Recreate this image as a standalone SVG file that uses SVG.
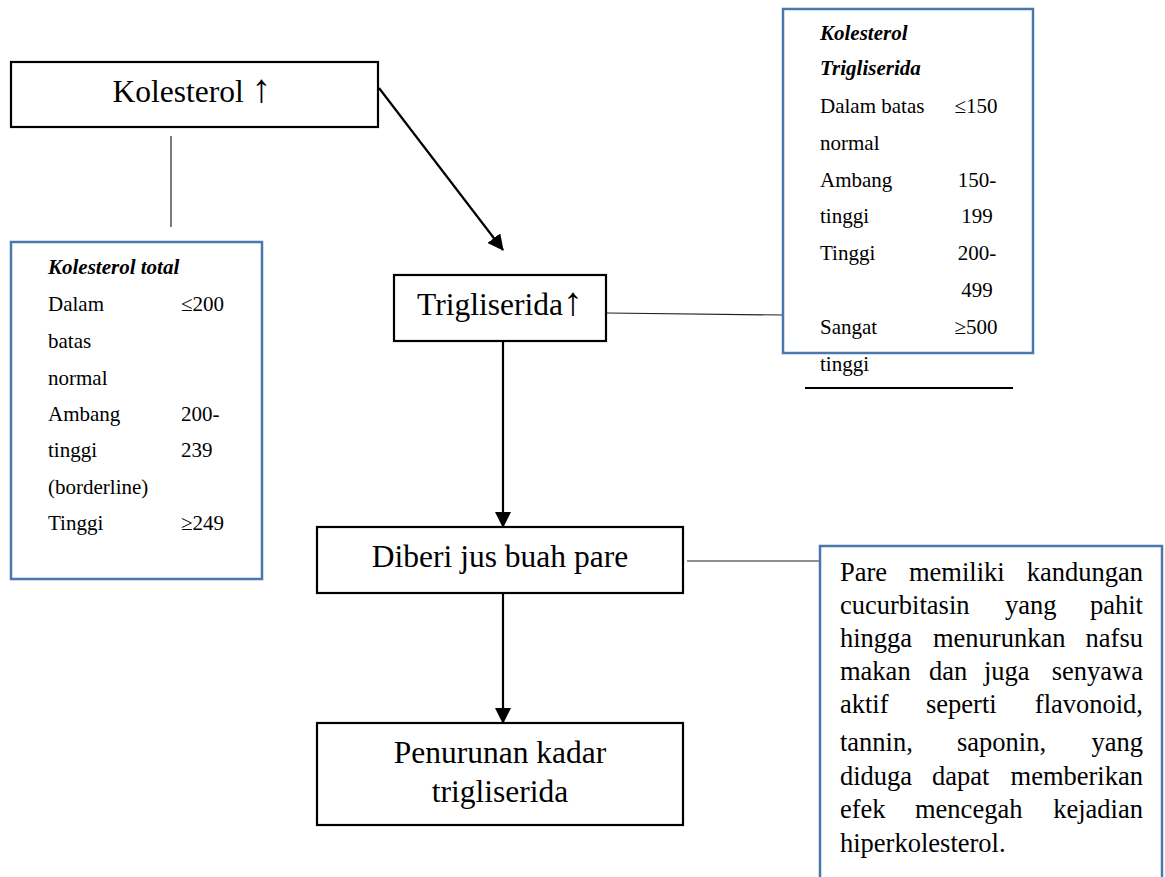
<svg xmlns="http://www.w3.org/2000/svg" width="1165" height="877" viewBox="0 0 1165 877">
<style>
.bg{fill:#ffffff}
.node{fill:#ffffff;stroke:#000000;stroke-width:2.2}
.tbl{fill:#ffffff;stroke:#4a78ad;stroke-width:2.5}
.lbl{font-family:"Liberation Serif","Times New Roman",serif;font-size:31.5px;fill:#000;text-anchor:middle}
.up{font-size:40px}
.t{font-family:"Liberation Serif","Times New Roman",serif;font-size:21px;fill:#000}
.th{font-family:"Liberation Serif","Times New Roman",serif;font-size:21px;fill:#000;font-weight:bold;font-style:italic}
.m{text-anchor:middle}
.p{font-family:"Liberation Serif","Times New Roman",serif;font-size:26.5px;fill:#000}
.e{text-anchor:end}
.arrow{fill:none;stroke:#000;stroke-width:2.2;marker-end:url(#ah)}
.thin{fill:none;stroke:#222;stroke-width:1.2}
</style>
<defs>
<marker id="ah" markerUnits="userSpaceOnUse" markerWidth="16" markerHeight="16" viewBox="0 0 16 16" refX="15" refY="8" orient="auto">
<path d="M0,0 L16,8 L0,16 z" fill="#000"/>
</marker>
</defs>
<rect class="bg" x="0" y="0" width="1165" height="877"/>

<g id="connectors">
<line class="arrow" x1="379" y1="88" x2="503" y2="250"/>
<line class="arrow" x1="503" y1="341" x2="503" y2="527"/>
<line class="arrow" x1="503" y1="593" x2="503" y2="723"/>
<line class="thin" x1="171" y1="136" x2="171" y2="227"/>
<line class="thin" x1="607" y1="313" x2="783" y2="315"/>
<line class="thin" x1="687" y1="561" x2="820" y2="561"/>
</g>

<g id="kolesterol">
<rect class="node" x="11" y="62" width="367" height="65"/>
<text class="lbl" x="192" y="102">Kolesterol <tspan class="up">↑</tspan></text>
</g>

<g id="trigliserida">
<rect class="node" x="394" y="275" width="212" height="66"/>
<text class="lbl" x="500" y="315">Trigliserida<tspan class="up">↑</tspan></text>
</g>

<g id="diberi">
<rect class="node" x="317" y="527" width="366" height="66"/>
<text class="lbl" x="500" y="567">Diberi jus buah pare</text>
</g>

<g id="penurunan">
<rect class="node" x="317" y="723" width="366" height="102"/>
<text class="lbl" x="500" y="763">Penurunan kadar</text>
<text class="lbl" x="500" y="802">trigliserida</text>
</g>

<g id="tabel-kolesterol-total">
<rect class="tbl" x="11" y="242" width="251" height="337"/>
<text class="th" x="48" y="274">Kolesterol total</text>
<text class="t" x="48" y="311">Dalam</text><text class="t" x="181" y="311">≤200</text>
<text class="t" x="48" y="348">batas</text>
<text class="t" x="48" y="385">normal</text>
<text class="t" x="48" y="421">Ambang</text><text class="t" x="181" y="421">200-</text>
<text class="t" x="48" y="457">tinggi</text><text class="t" x="181" y="457">239</text>
<text class="t" x="48" y="494">(borderline)</text>
<text class="t" x="48" y="530">Tinggi</text><text class="t" x="181" y="530">≥249</text>
</g>

<g id="tabel-trigliserida">
<rect class="tbl" x="783" y="9" width="250" height="344"/>
<text class="th" x="820" y="40">Kolesterol</text>
<text class="th" x="820" y="75">Trigliserida</text>
<text class="t" x="820" y="113">Dalam batas</text><text class="t m" x="976" y="113">≤150</text>
<text class="t" x="820" y="150">normal</text>
<text class="t" x="820" y="187">Ambang</text><text class="t m" x="977" y="187">150-</text>
<text class="t" x="820" y="223">tinggi</text><text class="t m" x="977" y="223">199</text>
<text class="t" x="820" y="260">Tinggi</text><text class="t m" x="977" y="260">200-</text>
<text class="t m" x="977" y="297">499</text>
<text class="t" x="820" y="334">Sangat</text><text class="t m" x="976" y="334">≥500</text>
<text class="t" x="820" y="371">tinggi</text>
<line x1="805" y1="388" x2="1013" y2="388" stroke="#000" stroke-width="2"/>
</g>

<g id="keterangan-pare">
<rect class="tbl" x="820" y="546" width="342" height="340"/>
<text class="p" x="840" y="581">Pare</text><text class="p" x="909" y="581">memiliki</text><text class="p e" x="1143" y="581">kandungan</text>
<text class="p" x="840" y="614">cucurbitasin</text><text class="p" x="1005" y="614">yang</text><text class="p e" x="1143" y="614">pahit</text>
<text class="p" x="840" y="647">hingga</text><text class="p" x="933" y="647">menurunkan</text><text class="p e" x="1143" y="647">nafsu</text>
<text class="p" x="840" y="680">makan</text><text class="p" x="929" y="680">dan</text><text class="p" x="984" y="680">juga</text><text class="p e" x="1143" y="680">senyawa</text>
<text class="p" x="840" y="713">aktif</text><text class="p" x="926" y="713">seperti</text><text class="p e" x="1143" y="713">flavonoid,</text>
<text class="p" x="840" y="751">tannin,</text><text class="p" x="957" y="751">saponin,</text><text class="p e" x="1143" y="751">yang</text>
<text class="p" x="840" y="785">diduga</text><text class="p" x="932" y="785">dapat</text><text class="p e" x="1143" y="785">memberikan</text>
<text class="p" x="840" y="818">efek</text><text class="p" x="915" y="818">mencegah</text><text class="p e" x="1143" y="818">kejadian</text>
<text class="p" x="840" y="852">hiperkolesterol.</text>
</g>
</svg>
